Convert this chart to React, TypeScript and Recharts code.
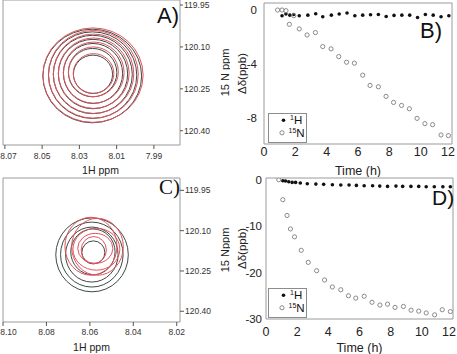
import React from 'react'
import { ScatterChart, Scatter, XAxis, YAxis, ReferenceArea, Legend } from 'recharts'

const FONT = '"Liberation Sans", Arial, sans-serif'

// contour rings: centre (1H ppm, 15N ppm) and half widths (ppm)
const ringsADark = [
  { x: 8.0231, y: 120.204, rx: 0.0265, ry: 0.1675 },
  { x: 8.0229, y: 120.201, rx: 0.0237, ry: 0.155 },
  { x: 8.0228, y: 120.1985, rx: 0.0212, ry: 0.1403 },
  { x: 8.0227, y: 120.197, rx: 0.0186, ry: 0.1242 },
  { x: 8.0227, y: 120.195, rx: 0.0159, ry: 0.1074 },
  { x: 8.0229, y: 120.192, rx: 0.013, ry: 0.0866 },
  { x: 8.0227, y: 120.198, rx: 0.0105, ry: 0.0687 },
]
const ringsARed = [
  { x: 8.0227, y: 120.201, rx: 0.0269, ry: 0.169 },
  { x: 8.0225, y: 120.198, rx: 0.0241, ry: 0.157 },
  { x: 8.0224, y: 120.196, rx: 0.0216, ry: 0.142 },
  { x: 8.0223, y: 120.194, rx: 0.019, ry: 0.126 },
  { x: 8.0223, y: 120.192, rx: 0.0163, ry: 0.1095 },
  { x: 8.0225, y: 120.189, rx: 0.0134, ry: 0.089 },
  { x: 8.0224, y: 120.195, rx: 0.0109, ry: 0.071 },
]
const ringsCDark = [
  { x: 8.059, y: 120.19, rx: 0.0167, ry: 0.1376 },
  { x: 8.0591, y: 120.189, rx: 0.0144, ry: 0.1209 },
  { x: 8.0591, y: 120.189, rx: 0.0121, ry: 0.1023 },
  { x: 8.0586, y: 120.179, rx: 0.0102, ry: 0.0855 },
  { x: 8.0584, y: 120.181, rx: 0.0053, ry: 0.0428 },
]
const ringsCRed = [
  { x: 8.0595, y: 120.158, rx: 0.012, ry: 0.1078 },
  { x: 8.0565, y: 120.16, rx: 0.0119, ry: 0.106 },
  { x: 8.057, y: 120.169, rx: 0.0108, ry: 0.0781 },
  { x: 8.0575, y: 120.166, rx: 0.0081, ry: 0.0558 },
  { x: 8.0582, y: 120.172, rx: 0.0058, ry: 0.05 },
]

const xTicksA = [8.07, 8.05, 8.03, 8.01, 7.99]
const xTicksC = [8.1, 8.08, 8.06, 8.04, 8.02]
const nppmTicks = [119.95, 120.1, 120.25, 120.4]

const timeTicks = [0, 2, 4, 6, 8, 10, 12]
const shiftTicksB = [0, -4, -8]
const shiftTicksD = [0, -10, -20, -30]

// B) time (h) and shift (ppb)
const bHTime = [1.15, 1.4, 1.65, 1.9, 2.25, 2.8, 3.3, 3.75, 4.3, 4.8, 5.3, 5.8, 6.3, 6.8, 7.3, 7.8, 8.3, 8.8, 9.3, 9.8, 10.3, 10.8, 11.3, 11.8]
const bHShift = [-0.43, -0.3, -0.38, -0.33, -0.43, -0.38, -0.28, -0.5, -0.38, -0.3, -0.22, -0.43, -0.38, -0.35, -0.33, -0.48, -0.4, -0.38, -0.38, -0.55, -0.33, -0.38, -0.5, -0.43]
const bNTime = [0.87, 1.15, 1.4, 1.62, 1.9, 2.25, 2.75, 3.28, 3.75, 4.28, 4.77, 5.27, 5.77, 6.3, 6.77, 7.3, 7.79, 8.27, 8.78, 9.28, 9.77, 10.27, 10.76, 11.3, 11.77]
const bNShift = [0, 0, -0.05, -1.06, -0.42, -1.4, -1.85, -1.67, -2.71, -2.88, -3.45, -3.87, -3.94, -4.83, -5.59, -5.69, -6.4, -6.85, -7.07, -7.32, -8.03, -8.42, -8.5, -9.26, -9.31]

// D)
const dHTime = [1.08, 1.25, 1.46, 1.68, 1.9, 2.2, 2.65, 3.2, 3.7, 4.26, 4.8, 5.33, 5.8, 6.3, 6.84, 7.3, 7.8, 8.34, 8.77, 9.3, 9.8, 10.28, 10.8, 11.35, 11.83]
const dHShift = [-0.22, -0.29, -0.43, -0.58, -0.58, -0.72, -0.86, -0.94, -1.0, -1.08, -1.15, -1.15, -1.22, -1.29, -1.29, -1.37, -1.44, -1.37, -1.44, -1.44, -1.44, -1.51, -1.51, -1.51, -1.51]
const dNTime = [0.82, 1.08, 1.35, 1.57, 1.83, 2.26, 2.71, 3.25, 3.76, 4.26, 4.8, 5.29, 5.76, 6.3, 6.8, 7.31, 7.8, 8.28, 8.82, 9.31, 9.8, 10.28, 10.82, 11.31, 11.83]
const dNShift = [0, -4.3, -7.7, -10.6, -12.3, -15.2, -17.8, -19.6, -21.6, -23.1, -23.7, -25.0, -25.5, -25.1, -26.4, -27.0, -26.8, -27.5, -27.3, -28.1, -28.3, -28.7, -29.1, -28.0, -28.4]

const zipPts = (t: number[], v: number[]) => t.map((x, i) => ({ t: x, v: v[i] }))

const BOX = '#9a9a9a'
const DARK = '#3e4a44'
const RED = '#e2545e'

interface Ring { x: number; y: number; rx: number; ry: number }

const ringShape = (color: string) => (p: any) => (
  <ellipse
    cx={p.x + p.width / 2}
    cy={p.y + p.height / 2}
    rx={Math.abs(p.width) / 2}
    ry={Math.abs(p.height) / 2}
    fill="none"
    stroke={color}
    strokeWidth={1}
  />
)

// time tick, last label nudged left so it stays inside the figure
const TimeTick = (p: any) => (
  <text x={p.x + (p.payload.value === 12 ? -4 : 0)} y={p.y} dy="0.71em" textAnchor="middle" fontSize={12.5} fill="#222">
    {p.payload.value}
  </text>
)

// ppm tick, first label nudged right so it is not cut at the page edge
const PpmTick = (p: any) => (
  <text x={p.index === 0 ? Math.max(p.x, 8.5) : p.x} y={p.y} dy="0.71em" textAnchor="middle" fontSize={8.5} fill="#333">
    {p.payload.value.toFixed(2)}
  </text>
)

interface ContourProps {
  top: number
  marginTop: number
  xDomain: [number, number]
  yDomain: [number, number]
  xTicks: number[]
  dark: Ring[]
  red: Ring[]
  labelDx: number
  yLabel: string
  xTickMargin: number
  yTickSize: number
}

function ContourPanel({ top, marginTop, xDomain, yDomain, xTicks, dark, red, labelDx, yLabel, xTickMargin, yTickSize }: ContourProps) {
  return (
    <div style={{ position: 'absolute', left: 0, top }}>
      <ScatterChart width={230} height={177} margin={{ top: marginTop, right: 0, bottom: 0, left: 3 }}>
        <XAxis
          type="number"
          dataKey="x"
          domain={xDomain}
          allowDataOverflow
          reversed
          ticks={xTicks}
          interval={0}
          height={32}
          axisLine={false}
          tickSize={4}
          tickMargin={xTickMargin}
          tickLine={{ stroke: '#555' }}
          tick={PpmTick}
          label={{ value: '1H ppm', position: 'insideBottom', offset: 3, dx: labelDx, fontSize: 10.5, fill: '#222' }}
        />
        <YAxis
          type="number"
          dataKey="y"
          orientation="right"
          domain={yDomain}
          allowDataOverflow
          reversed
          ticks={nppmTicks}
          interval={0}
          tickFormatter={(v: number) => v.toFixed(2)}
          width={50}
          axisLine={false}
          tickSize={yTickSize}
          tickMargin={1}
          tickLine={{ stroke: '#555' }}
          tick={{ fontSize: 8.5, fill: '#333' }}
          label={{ value: yLabel, angle: -90, position: 'insideRight', offset: 5, fontSize: 11, fill: '#222', style: { textAnchor: 'middle' } }}
        />
        <Scatter data={dark} isAnimationActive={false} shape={() => <g />} />
        {dark.map((r, i) => (
          <ReferenceArea key={'d' + i} x1={r.x - r.rx} x2={r.x + r.rx} y1={r.y - r.ry} y2={r.y + r.ry} ifOverflow="visible" shape={ringShape(DARK)} />
        ))}
        {red.map((r, i) => (
          <ReferenceArea key={'r' + i} x1={r.x - r.rx} x2={r.x + r.rx} y1={r.y - r.ry} y2={r.y + r.ry} ifOverflow="visible" shape={ringShape(RED)} />
        ))}
        <ReferenceArea x1={xDomain[0]} x2={xDomain[1]} y1={yDomain[0]} y2={yDomain[1]} ifOverflow="visible" fill="none" stroke={BOX} strokeWidth={1} />
      </ScatterChart>
    </div>
  )
}

function TimeLegend() {
  return (
    <div style={{ width: 37, height: 28, border: '1px solid #8c8c8c', background: '#fff' }}>
      <svg width={37} height={28} style={{ display: 'block' }}>
        <circle cx={14.5} cy={6.2} r={1.8} fill="#111" />
        <circle cx={13} cy={18.8} r={2.1} fill="none" stroke="#8a8a8a" />
        <text x={21} y={10.4} fontSize={11.5} fill="#111">
          <tspan fontSize={7} dy={-4}>1</tspan>
          <tspan dy={4}>H</tspan>
        </text>
        <text x={19.5} y={23.4} fontSize={11.5} fill="#111">
          <tspan fontSize={7} dy={-4}>15</tspan>
          <tspan dy={4}>N</tspan>
        </text>
      </svg>
    </div>
  )
}

interface TimeProps {
  top: number
  height: number
  yAxisWidth: number
  marginRight: number
  xAxisHeight: number
  yDomain: [number, number]
  yTicks: number[]
  hData: { t: number; v: number }[]
  nData: { t: number; v: number }[]
  xTickMargin: number
  yTickMargin: number
  legendTop: number
}

function TimePanel({ top, height, yAxisWidth, marginRight, xAxisHeight, yDomain, yTicks, hData, nData, xTickMargin, yTickMargin, legendTop }: TimeProps) {
  return (
    <div style={{ position: 'absolute', left: 225, top }}>
      <ScatterChart width={232} height={height} margin={{ top: 3, right: marginRight, bottom: 0, left: 0 }}>
        <XAxis
          type="number"
          dataKey="t"
          domain={[0, 12]}
          allowDataOverflow
          ticks={timeTicks}
          interval={0}
          height={xAxisHeight}
          axisLine={false}
          tickLine={false}
          tickSize={2}
          tickMargin={xTickMargin}
          tick={TimeTick}
          label={{ value: 'Time (h)', position: 'insideBottom', offset: 2, fontSize: 12.5, fill: '#222' }}
        />
        <YAxis
          type="number"
          dataKey="v"
          domain={yDomain}
          allowDataOverflow
          ticks={yTicks}
          interval={0}
          width={yAxisWidth}
          axisLine={false}
          tickLine={false}
          tickSize={2}
          tickMargin={yTickMargin}
          tick={{ fontSize: 11.5, fill: '#222' }}
          label={{ value: 'Δδ(ppb)', angle: -90, position: 'insideLeft', offset: 17, fontSize: 11.5, fill: '#222', style: { textAnchor: 'middle' } }}
        />
        <Legend
          layout="vertical"
          align="center"
          verticalAlign="middle"
          wrapperStyle={{ left: 43, top: legendTop, width: 39, height: 30 }}
          content={() => <TimeLegend />}
        />
        <ReferenceArea x1={0} x2={12} y1={yDomain[0]} y2={yDomain[1]} ifOverflow="visible" fill="none" stroke={BOX} strokeWidth={1} />
        <Scatter
          name="1H"
          data={hData}
          isAnimationActive={false}
          shape={(p: any) => <circle cx={p.cx} cy={p.cy} r={1.8} fill="#111" />}
        />
        <Scatter
          name="15N"
          data={nData}
          isAnimationActive={false}
          shape={(p: any) => <circle cx={p.cx} cy={p.cy} r={2.1} fill="none" stroke="#8a8a8a" strokeWidth={1} />}
        />
      </ScatterChart>
    </div>
  )
}

export default function App() {
  return (
    <div style={{ position: 'absolute', left: 0, top: 0, width: 457, height: 354, background: '#fff', fontFamily: FONT, overflow: 'hidden' }}>
      <ContourPanel
        top={0}
        marginTop={0}
        xDomain={[7.976, 8.071]}
        yDomain={[119.932, 120.451]}
        xTicks={xTicksA}
        dark={ringsADark}
        red={ringsARed}
        labelDx={9}
        yLabel="15 N ppm"
        xTickMargin={4}
        yTickSize={3}
      />
      <ContourPanel
        top={177}
        marginTop={1}
        xDomain={[8.0185, 8.1]}
        yDomain={[119.904, 120.44]}
        xTicks={xTicksC}
        dark={ringsCDark}
        red={ringsCRed}
        labelDx={0}
        yLabel="15 Nppm"
        xTickMargin={3}
        yTickSize={4}
      />
      <TimePanel
        top={0}
        height={177}
        yAxisWidth={39}
        marginRight={5}
        xAxisHeight={33}
        yDomain={[-9.93, 0.52]}
        yTicks={shiftTicksB}
        hData={zipPts(bHTime, bHShift)}
        nData={zipPts(bNTime, bNShift)}
        xTickMargin={1}
        yTickMargin={5}
        legendTop={112.7}
      />
      <TimePanel
        top={175}
        height={179}
        yAxisWidth={41}
        marginRight={4}
        xAxisHeight={35}
        yDomain={[-30, 0.37]}
        yTicks={shiftTicksD}
        hData={zipPts(dHTime, dHShift)}
        nData={zipPts(dNTime, dNShift)}
        xTickMargin={6}
        yTickMargin={2}
        legendTop={112.7}
      />
      <svg width={457} height={354} style={{ position: 'absolute', left: 0, top: 0, pointerEvents: 'none' }}>
        <text x={157} y={23} fontSize={22} fill="#111">A)</text>
        <text x={420} y={38} fontSize={22} fill="#111">B)</text>
        <text x={159} y={194} fontSize={21} fill="#111" fontFamily='"Liberation Serif", "Times New Roman", serif'>C)</text>
        <text x={432} y={205} fontSize={21} fill="#111">D)</text>
      </svg>
    </div>
  )
}
